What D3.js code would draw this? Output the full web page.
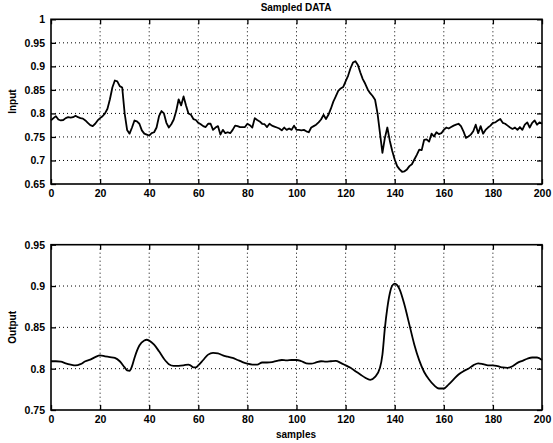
<!DOCTYPE html>
<html>
<head>
<meta charset="utf-8">
<script src="https://cdn.jsdelivr.net/npm/d3@7"></script>
<style>
  body { margin: 0; background: #fff; }
  text { font-family: "Liberation Sans", Arial, sans-serif; font-weight: bold; fill: #000; }
  .grid line { stroke: #000; stroke-width: 1; stroke-dasharray: 1,3; }
</style>
</head>
<body>
<svg id="chart" width="553" height="443"></svg>
<script>
// input signal, one value per sample 0..200
var inputValues = [
  0.785, 0.79, 0.794, 0.787, 0.785, 0.786, 0.79, 0.792, 0.791, 0.792,
  0.795, 0.792, 0.79, 0.789, 0.785, 0.78, 0.775, 0.773, 0.778, 0.785,
  0.79, 0.794, 0.80, 0.81, 0.83, 0.855, 0.87, 0.868, 0.858, 0.855,
  0.80, 0.765, 0.757, 0.77, 0.785, 0.783, 0.778, 0.764, 0.757, 0.755,
  0.753, 0.758, 0.76, 0.77, 0.794, 0.805, 0.80, 0.78, 0.77, 0.777,
  0.787, 0.805, 0.83, 0.817, 0.836, 0.817, 0.80, 0.797, 0.788, 0.786,
  0.78, 0.777, 0.773, 0.771, 0.778, 0.778, 0.765, 0.77, 0.773, 0.755,
  0.765, 0.758, 0.76, 0.758, 0.765, 0.774, 0.773, 0.771, 0.771, 0.771,
  0.778, 0.775, 0.77, 0.79, 0.786, 0.783, 0.778, 0.777, 0.771, 0.778,
  0.774, 0.772, 0.77, 0.768, 0.764, 0.77, 0.765, 0.768, 0.765, 0.774,
  0.765, 0.765, 0.764, 0.765, 0.762, 0.76, 0.77, 0.773, 0.776, 0.781,
  0.787, 0.797, 0.788, 0.797, 0.81, 0.825, 0.836, 0.848, 0.853, 0.856,
  0.868, 0.88, 0.896, 0.908, 0.911, 0.903, 0.887, 0.873, 0.863, 0.851,
  0.843, 0.837, 0.829, 0.80, 0.758, 0.716, 0.748, 0.77, 0.742, 0.72,
  0.702, 0.688, 0.681, 0.676, 0.677, 0.681, 0.688, 0.692, 0.702, 0.712,
  0.723, 0.722, 0.744, 0.745, 0.74, 0.757, 0.751, 0.76, 0.756, 0.758,
  0.765, 0.77, 0.768, 0.771, 0.774, 0.776, 0.778, 0.773, 0.762, 0.748,
  0.751, 0.755, 0.762, 0.776, 0.758, 0.773, 0.757, 0.765, 0.77, 0.774,
  0.78, 0.781, 0.785, 0.788, 0.78, 0.778, 0.774, 0.77, 0.767, 0.77,
  0.765, 0.771, 0.765, 0.776, 0.781, 0.77, 0.78, 0.785, 0.776, 0.781,
  0.778
];

// output signal, read at these samples
var outputSamples = [0, 2, 4, 6, 8, 10, 12, 14, 16, 18, 20, 22, 24, 26, 28, 30, 31, 32, 33, 34,
  36, 38, 39, 40, 42, 44, 46, 48, 50, 52, 54, 56, 57, 58, 59, 60, 62, 64, 66, 68,
  70, 72, 74, 76, 78, 80, 82, 84, 86, 88, 90, 92, 94, 96, 98, 100, 102, 104, 106, 108,
  110, 112, 114, 116, 118, 120, 122, 124, 126, 128, 130, 132, 134, 135, 136, 137, 138, 139, 140, 141,
  142, 144, 146, 148, 150, 152, 154, 156, 158, 160, 162, 164, 166, 168, 170, 172, 174, 176, 178, 180,
  182, 184, 186, 188, 190, 192, 194, 196, 198, 200];
var outputValues = [0.809, 0.809, 0.8085, 0.8065, 0.805, 0.804, 0.8055, 0.809, 0.811, 0.814,
  0.816, 0.815, 0.814, 0.813, 0.809, 0.8015, 0.798, 0.7975, 0.803, 0.813,
  0.828, 0.834, 0.835, 0.834, 0.829, 0.821, 0.812, 0.8055, 0.8035, 0.8035,
  0.804, 0.805, 0.8035, 0.8015, 0.8015, 0.804, 0.8105, 0.817, 0.819, 0.8185,
  0.816, 0.8145, 0.813, 0.8105, 0.808, 0.806, 0.805, 0.805, 0.8075, 0.8075,
  0.808, 0.8095, 0.8105, 0.81, 0.8105, 0.8105, 0.809, 0.8065, 0.806, 0.8075,
  0.809, 0.8085, 0.809, 0.8095, 0.807, 0.804, 0.801, 0.797, 0.793, 0.789,
  0.7865, 0.79, 0.801, 0.817, 0.849, 0.8735, 0.891, 0.9005, 0.903, 0.901,
  0.896, 0.877, 0.853, 0.829, 0.81, 0.796, 0.787, 0.780, 0.776, 0.776,
  0.781, 0.787, 0.793, 0.797, 0.80, 0.804, 0.8065, 0.8055, 0.804, 0.804,
  0.803, 0.8015, 0.801, 0.803, 0.807, 0.8095, 0.812, 0.8135, 0.8135, 0.8105];

var xTicks = [0, 20, 40, 60, 80, 100, 120, 140, 160, 180, 200];
var inputTicks = [0.65, 0.7, 0.75, 0.8, 0.85, 0.9, 0.95, 1];
var outputTicks = [0.75, 0.8, 0.85, 0.9, 0.95];

var svg = d3.select("#chart");
var left = 51, right = 542;

var x = d3.scaleLinear().domain([0, 200]).range([left, right]);

function drawPanel(top, bottom, domain, yTicks, label, pts, curve) {
  var y = d3.scaleLinear().domain(domain).range([bottom, top]);
  var g = svg.append("g");

  // dotted grid
  var grid = g.append("g").attr("class", "grid");
  grid.selectAll(".gx").data(xTicks.slice(1, -1)).enter().append("line")
    .attr("x1", function(d) { return x(d); }).attr("x2", function(d) { return x(d); })
    .attr("y1", top).attr("y2", bottom);
  grid.selectAll(".gy").data(yTicks.slice(1, -1)).enter().append("line")
    .attr("y1", function(d) { return y(d); }).attr("y2", function(d) { return y(d); })
    .attr("x1", left).attr("x2", right);

  // axes with inward ticks on all four sides
  var fmt = function(d) { return String(+d.toFixed(2)); };
  g.append("g").attr("transform", "translate(0," + bottom + ")")
    .call(d3.axisBottom(x).tickValues(xTicks).tickSizeInner(-5).tickSizeOuter(0).tickPadding(6));
  g.append("g").attr("transform", "translate(0," + top + ")")
    .call(d3.axisTop(x).tickValues(xTicks).tickSizeInner(-5).tickSizeOuter(0).tickFormat(""));
  g.append("g").attr("transform", "translate(" + left + ",0)")
    .call(d3.axisLeft(y).tickValues(yTicks).tickFormat(fmt).tickSizeInner(-5).tickSizeOuter(0).tickPadding(6));
  g.append("g").attr("transform", "translate(" + right + ",0)")
    .call(d3.axisRight(y).tickValues(yTicks).tickSizeInner(-5).tickSizeOuter(0).tickFormat(""));

  g.selectAll(".domain").remove();
  g.selectAll(".tick line").attr("stroke", "#000").attr("stroke-width", 1.3);
  g.selectAll(".tick text").style("font-size", "10.5px").style("font-weight", "bold")
    .style("font-family", "'Liberation Sans', Arial, sans-serif").attr("fill", "#000");

  g.append("rect").attr("x", left).attr("y", top)
    .attr("width", right - left).attr("height", bottom - top)
    .attr("fill", "none").attr("stroke", "#000").attr("stroke-width", 1.6);

  var line = d3.line()
    .x(function(d) { return x(d[0]); })
    .y(function(d) { return y(d[1]); })
    .curve(curve);
  g.append("path").datum(pts).attr("d", line)
    .attr("fill", "none").attr("stroke", "#000").attr("stroke-width", 1.8)
    .attr("stroke-linejoin", "round");

  svg.append("text")
    .attr("transform", "translate(16," + ((top + bottom) / 2) + ") rotate(-90)")
    .attr("text-anchor", "middle").style("font-size", "10px").text(label);
}

var inputPts = inputValues.map(function(v, i) { return [i, v]; });
var outputPts = outputSamples.map(function(s, i) { return [s, outputValues[i]]; });

drawPanel(19.3, 184, [0.65, 1], inputTicks, "Input", inputPts, d3.curveLinear);
drawPanel(244.7, 410, [0.75, 0.95], outputTicks, "Output", outputPts, d3.curveMonotoneX);

svg.append("text").attr("x", 296).attr("y", 11).attr("text-anchor", "middle")
  .style("font-size", "10px").text("Sampled DATA");
svg.append("text").attr("x", 296).attr("y", 438).attr("text-anchor", "middle")
  .style("font-size", "10px").text("samples");
</script>
</body>
</html>
